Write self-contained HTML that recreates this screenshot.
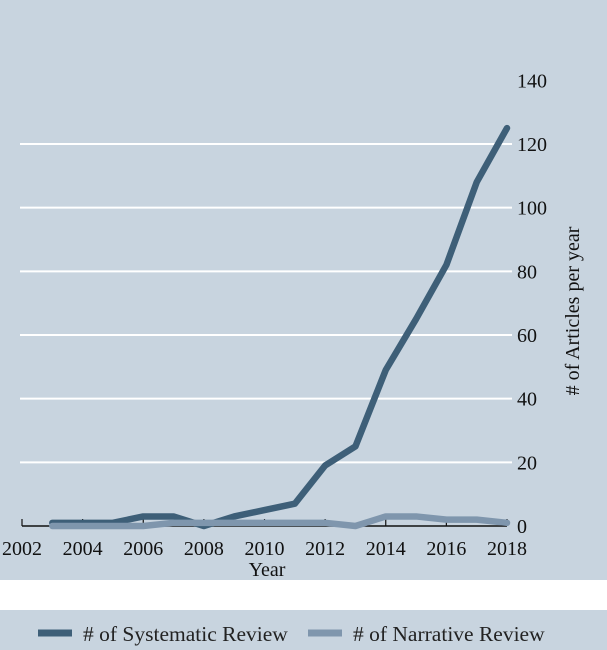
<!DOCTYPE html>
<html><head><meta charset="utf-8"><style>
body{margin:0;background:#fff;}
svg{display:block;}
text{font-family:"Liberation Serif","Times New Roman",serif;}
</style></head><body>
<svg width="607" height="650">
<rect x="0" y="0" width="607" height="580" fill="#c8d4df"/>
<rect x="0" y="610" width="607" height="40" fill="#c8d4df"/>
<g id="grid"></g><g id="axis"></g><g id="lines"></g>
<text x="267" y="576" font-size="20" text-anchor="middle" fill="#111">Year</text>
<text transform="translate(579,311) rotate(-90)" font-size="20" text-anchor="middle" fill="#111"># of Articles per year</text>
<g>
<line x1="38" y1="633" x2="72" y2="633" stroke="#3e5f78" stroke-width="7"/>
<text x="83" y="641" font-size="21.5" fill="#222"># of Systematic Review</text>
<line x1="308" y1="633" x2="342" y2="633" stroke="#7f96ad" stroke-width="7"/>
<text x="353" y="641" font-size="21.5" fill="#222"># of Narrative Review</text>
</g>
</svg>
<script>
const years=[2003,2004,2005,2006,2007,2008,2009,2010,2011,2012,2013,2014,2015,2016,2017,2018];
const systematic=[1,1,1,3,3,0,3,5,7,19,25,49,65,82,108,125];
const narrative=[0,0,0,0,1,1,1,1,1,1,0,3,3,2,2,1];
const xTicks=[2002,2004,2006,2008,2010,2012,2014,2016,2018];
const yTicks=[0,20,40,60,80,100,120,140];
const NS='http://www.w3.org/2000/svg';
const X=v=>22+(v-2002)*(507-22)/16;
const Y=v=>526-v*(526-144)/120;
function mk(t,a,p){const e=document.createElementNS(NS,t);for(const k in a)e.setAttribute(k,a[k]);p.appendChild(e);return e;}
const g=document.getElementById('grid'),ax=document.getElementById('axis'),ln=document.getElementById('lines');
yTicks.forEach(v=>{
 if(v>0&&v<140){const l=mk('line',{x1:20,x2:512,y1:Y(v),y2:Y(v),stroke:'#fff','stroke-width':2},g);
 
 }
 const t=mk('text',{x:517,y:Y(v)+7,'font-size':20,fill:'#111'},ax);t.textContent=v;
 
 
});
const base=mk('line',{x1:22,x2:507,y1:Y(0),y2:Y(0),stroke:'#111','stroke-width':1.5},ax);


xTicks.forEach(v=>{
 const tk=mk('line',{x1:X(v),x2:X(v),y1:Y(0)-7,y2:Y(0),stroke:'#111','stroke-width':1.2},ax);
 
 
 const t=mk('text',{x:X(v),y:555,'font-size':20,'text-anchor':'middle',fill:'#111'},ax);t.textContent=v;
 
 
});
function series(vals,col,name){
 const p=mk('polyline',{points:years.map((y,i)=>X(y)+','+Y(vals[i])).join(' '),fill:'none',stroke:col,'stroke-width':6.5,'stroke-linejoin':'round','stroke-linecap':'round'},ln);
 
 
}
series(systematic,'#3e5f78','systematic-review-line');
series(narrative,'#7f96ad','narrative-review-line');
</script>
</body></html>
